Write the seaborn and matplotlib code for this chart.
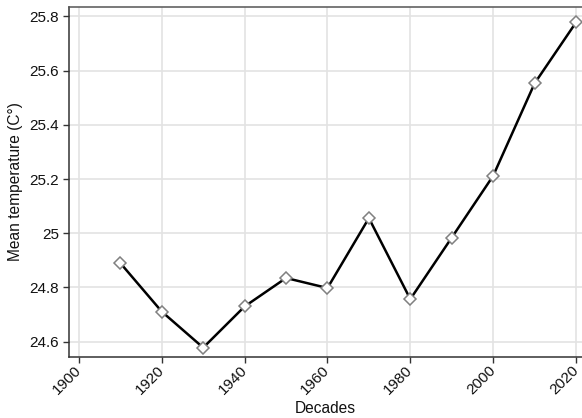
import matplotlib
matplotlib.use("Agg")
import matplotlib.pyplot as plt
from matplotlib.ticker import FuncFormatter
import seaborn as sns
import pandas as pd

# Mean temperature by decade
decades = [1910, 1920, 1930, 1940, 1950, 1960, 1970, 1980, 1990, 2000, 2010, 2020]
mean_temp = [24.89, 24.711, 24.578, 24.730, 24.835, 24.798, 25.056, 24.757,
             24.984, 25.212, 25.553, 25.778]
x_ticks = [1900, 1920, 1940, 1960, 1980, 2000, 2020]
y_ticks = [24.6, 24.8, 25.0, 25.2, 25.4, 25.6, 25.8]

df = pd.DataFrame({"Decades": decades, "Mean temperature": mean_temp})

sns.set_theme(style="white")
plt.rcParams["font.family"] = ["Liberation Sans", "DejaVu Sans"]

fig = plt.figure(figsize=(5.82, 4.18), dpi=100)
ax = fig.add_axes([69 / 582, 61 / 418, 1 - 69 / 582, (357 - 7) / 418])

sns.lineplot(data=df, x="Decades", y="Mean temperature", ax=ax,
             color="black", linewidth=1.8, marker="D", markersize=6.3,
             markerfacecolor="white", markeredgecolor="#808080",
             markeredgewidth=1.1, zorder=3)

ax.set_xlim(1897.6, 2021.45)
ax.set_ylim(24.5435, 25.835)
ax.set_xticks(x_ticks)
ax.set_yticks(y_ticks)
ax.yaxis.set_major_formatter(FuncFormatter(lambda v, p: f"{v:g}"))

ax.grid(True, color="#e3e3e3", linewidth=1.2, zorder=0)
ax.set_axisbelow(True)

for side in ["left", "bottom"]:
    ax.spines[side].set_color("#333333")
    ax.spines[side].set_linewidth(1.1)
ax.spines["top"].set_color("#555555")
ax.spines["top"].set_linewidth(1.1)
ax.spines["right"].set_visible(False)

ax.tick_params(axis="both", which="major", direction="out", length=4,
               width=1, color="#333333", labelsize=11, labelcolor="#111111",
               left=True, bottom=True)
ax.tick_params(axis="y", pad=3)
ax.tick_params(axis="x", pad=4)
plt.setp(ax.get_xticklabels(), rotation=45, ha="right", va="center",
         rotation_mode="anchor")

ax.set_xlabel("Decades", fontsize=11.2, color="#111111", labelpad=3)
ax.set_ylabel("Mean temperature (C°)", fontsize=11.2, color="#111111", labelpad=5)

fig.savefig("out.png", dpi=100)
